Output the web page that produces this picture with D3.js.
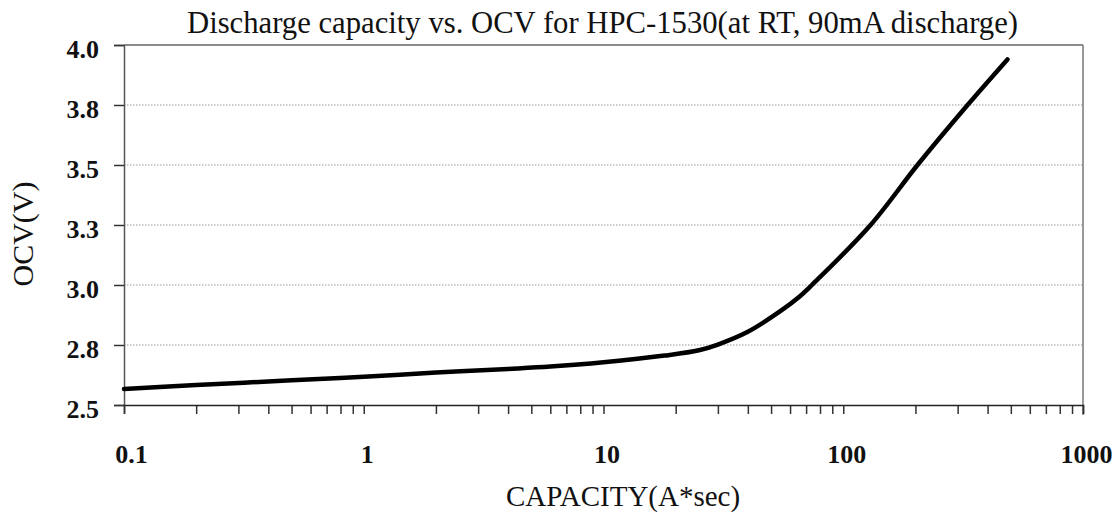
<!DOCTYPE html>
<html>
<head>
<meta charset="utf-8">
<script src="https://cdn.jsdelivr.net/npm/d3@7"></script>
<style>
  body { margin: 0; background: #fff; }
  text { font-family: "Liberation Serif", "Times New Roman", serif; fill: #111; }
</style>
</head>
<body>
<div id="chart"></div>
<script>
// data
const capacity = [0.1, 0.2, 0.5, 1, 2, 4, 6, 10, 18, 25, 30, 40, 55, 65.6, 74, 130, 204, 330, 484];
const ocv = [2.567, 2.583, 2.603, 2.618, 2.635, 2.65, 2.66, 2.678, 2.706, 2.728, 2.752, 2.805, 2.893, 2.951, 3.0, 3.25, 3.5, 3.75, 3.94];
const yTicks = [2.5, 2.75, 3.0, 3.25, 3.5, 3.75, 4.0];
const xTicks = [0.1, 1, 10, 100, 1000];

const margin = {top: 45, right: 37, bottom: 107, left: 124},
    width = 1120 - margin.left - margin.right,
    height = 512 - margin.top - margin.bottom;

const svg = d3.select("#chart")
  .append("svg")
    .attr("width", 1120)
    .attr("height", 512);

const g = svg.append("g")
    .attr("transform", `translate(${margin.left}, ${margin.top})`);

const x = d3.scaleLog()
  .domain([0.1, 1000])
  .range([0, width]);

const y = d3.scaleLinear()
  .domain([2.5, 4.0])
  .range([height, 0]);

// dotted grid lines
g.append("g")
  .selectAll("line")
  .data(yTicks.slice(1, -1))
  .enter()
  .append("line")
    .attr("x1", 0)
    .attr("x2", width)
    .attr("y1", d => y(d))
    .attr("y2", d => y(d))
    .style("stroke", "#999")
    .style("stroke-width", 1)
    .style("stroke-dasharray", "1.5,1.5");

// top and right border
g.append("line")
  .attr("x1", 0).attr("x2", width).attr("y1", 0).attr("y2", 0)
  .style("stroke", "#666").style("stroke-width", 1.5);
g.append("line")
  .attr("x1", width).attr("x2", width).attr("y1", 0).attr("y2", height + 10)
  .style("stroke", "#777").style("stroke-width", 1.5);

// Y axis
const yAxis = g.append("g")
  .call(d3.axisLeft(y)
    .tickValues(yTicks)
    .tickSize(10)
    .tickPadding(15)
    .tickFormat(d => (Math.round(d * 10 + 1e-9) / 10).toFixed(1)));
yAxis.select(".domain").style("stroke", "#555").style("stroke-width", 1.5);
yAxis.selectAll(".tick line").style("stroke", "#333").style("stroke-width", 1.5);
yAxis.selectAll("text")
  .style("font-size", "26px")
  .style("font-weight", "bold")
  .attr("dy", 12);

// X axis, minor ticks without labels
const minorTicks = x.ticks().filter(d => !xTicks.includes(d));
const xMinor = g.append("g")
  .attr("transform", `translate(0, ${height})`)
  .call(d3.axisBottom(x)
    .tickValues(minorTicks)
    .tickSize(9)
    .tickFormat(""));
xMinor.selectAll(".tick line").style("stroke", "#333").style("stroke-width", 1.5);
xMinor.select(".domain").remove();

const xAxis = g.append("g")
  .attr("transform", `translate(0, ${height})`)
  .call(d3.axisBottom(x)
    .tickValues(xTicks)
    .tickSize(9)
    .tickFormat(d => d3.format("~g")(d)));
xAxis.select(".domain").style("stroke", "#222").style("stroke-width", 1.5);
xAxis.selectAll(".tick line").style("stroke", "#333").style("stroke-width", 1.5);
xAxis.selectAll("text")
  .attr("y", 58)
  .attr("dy", 0)
  .attr("dx", d => d === 0.1 ? 7 : 3)
  .style("font-size", "26px")
  .style("font-weight", "bold");

// the curve
const line = d3.line()
  .x((d, i) => x(capacity[i]))
  .y(d => y(d))
  .curve(d3.curveCatmullRom.alpha(0.5));

g.append("path")
  .datum(ocv)
  .attr("d", line)
  .style("fill", "none")
  .style("stroke", "#000")
  .style("stroke-width", 4.5)
  .style("stroke-linecap", "round");

// titles
svg.append("text")
  .attr("x", 187)
  .attr("y", 33)
  .attr("textLength", 831)
  .attr("lengthAdjust", "spacingAndGlyphs")
  .style("font-size", "31px")
  .text("Discharge capacity vs. OCV for HPC-1530(at RT, 90mA discharge)");

svg.append("text")
  .attr("x", 506)
  .attr("y", 506)
  .style("font-size", "29px")
  .text("CAPACITY(A*sec)");

svg.append("text")
  .attr("transform", "translate(33, 234) rotate(-90)")
  .attr("text-anchor", "middle")
  .style("font-size", "30px")
  .text("OCV(V)");
</script>
</body>
</html>
